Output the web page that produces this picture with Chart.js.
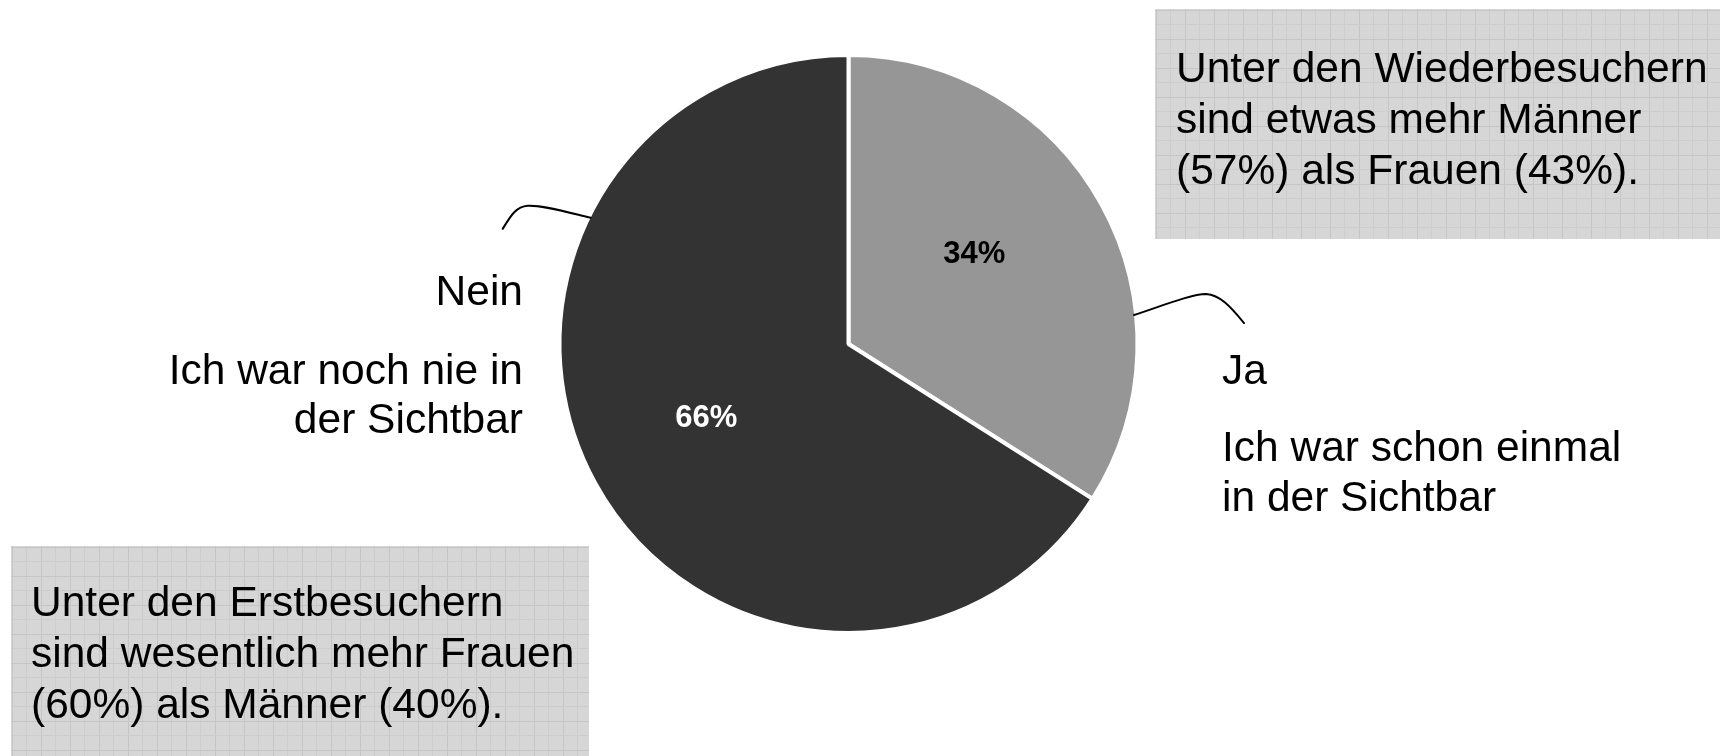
<!DOCTYPE html>
<html>
<head>
<meta charset="utf-8">
<script src="https://cdn.jsdelivr.net/npm/chart.js@4.4.1/dist/chart.umd.min.js"></script>
<style>
html, body { margin: 0; padding: 0; background: #ffffff; overflow: hidden; }
#wrap { width: 1720px; height: 756px; position: relative; }
</style>
</head>
<body>
<div id="wrap"><canvas id="c" width="1720" height="756"></canvas></div>
<script>
// ---- data ----
const categories = ['Ja', 'Nein'];
const values = [34, 66];
const valueLabels = ['34%', '66%'];
const categoryDescriptions = [
  ['Ich war schon einmal', 'in der Sichtbar'],
  ['Ich war noch nie in', 'der Sichtbar']
];
const noteWiederbesucher = ['Unter den Wiederbesuchern', 'sind etwas mehr Männer', '(57%) als Frauen (43%).'];
const noteErstbesucher = ['Unter den Erstbesuchern', 'sind wesentlich mehr Frauen', '(60%) als Männer (40%).'];

// ---- styles / layout ----
const sliceColors = ['#969696', '#333333'];
const valueLabelColors = ['#000000', '#ffffff'];
const FONT = '"Liberation Sans", Arial, Helvetica, sans-serif';
const TEXT_SIZE = 42.5;
const valueLabelPos = [ { along: 0.445, radial: 0.535 }, { along: 0.505, radial: 0.555 } ];
const categoryLabelLayout = [
  { x: 1222, align: 'left',  titleY: 384, lineYs: [461, 511] },
  { x: 523,  align: 'right', titleY: 305, lineYs: [384, 433] }
];
const leaderLayout = [
  { along: 0.688, segs: [[30,-10, 58,-21, 72,-21], [86,-20, 96,-9, 110,8]] },
  { along: 0.731, segs: [[-25,-6, -50,-13, -63,-12], [-75,-11, -80,-2, -88,11]] }
];
const noteBoxes = [
  { x: 1155, y: 9,   w: 565, h: 230, textX: 1176, lineYs: [82, 133, 184], lines: noteWiederbesucher },
  { x: 11,   y: 546, w: 578, h: 210, textX: 31,   lineYs: [616, 667, 718], lines: noteErstbesucher }
];

function drawGridBox(ctx, b) {
  ctx.save();
  ctx.fillStyle = '#d6d6d6';
  ctx.fillRect(b.x, b.y, b.w, b.h);
  ctx.beginPath();
  ctx.rect(b.x, b.y, b.w, b.h);
  ctx.clip();
  ctx.lineWidth = 1;
  const step = 14.5;
  let i = 0;
  for (let x = b.x + 0.5; x < b.x + b.w; x += step, i++) {
    ctx.strokeStyle = (i % 2 === 0) ? '#c5c5c5' : '#cdcdcd';
    ctx.beginPath(); ctx.moveTo(Math.round(x) + 0.5, b.y); ctx.lineTo(Math.round(x) + 0.5, b.y + b.h); ctx.stroke();
  }
  i = 0;
  for (let y = b.y + 0.5; y < b.y + b.h; y += step, i++) {
    ctx.strokeStyle = (i % 2 === 0) ? '#c5c5c5' : '#cdcdcd';
    ctx.beginPath(); ctx.moveTo(b.x, Math.round(y) + 0.5); ctx.lineTo(b.x + b.w, Math.round(y) + 0.5); ctx.stroke();
  }
  ctx.restore();
}

const decorPlugin = {
  id: 'decor',
  beforeDraw(chart) {
    const ctx = chart.ctx;
    noteBoxes.forEach(b => drawGridBox(ctx, b));
  },
  afterDraw(chart) {
    const ctx = chart.ctx;
    const meta = chart.getDatasetMeta(0);
    ctx.save();
    // value labels inside slices
    meta.data.forEach((arc, i) => {
      const p = arc.getProps(['x', 'y', 'startAngle', 'endAngle', 'outerRadius'], true);
      const a = p.startAngle + (p.endAngle - p.startAngle) * valueLabelPos[i].along;
      const r = p.outerRadius * valueLabelPos[i].radial;
      ctx.font = 'bold 31px ' + FONT;
      ctx.fillStyle = valueLabelColors[i];
      ctx.textAlign = 'center';
      ctx.textBaseline = 'middle';
      ctx.fillText(valueLabels[i], p.x + Math.cos(a) * r, p.y + Math.sin(a) * r);
    });
    // leader lines
    ctx.strokeStyle = '#000000';
    ctx.lineWidth = 2;
    ctx.lineCap = 'round';
    meta.data.forEach((arc, i) => {
      const p = arc.getProps(['x', 'y', 'startAngle', 'endAngle', 'outerRadius'], true);
      const L = leaderLayout[i];
      const a = p.startAngle + (p.endAngle - p.startAngle) * L.along;
      const r = p.outerRadius - 2;
      const sx = p.x + Math.cos(a) * r, sy = p.y + Math.sin(a) * r;
      ctx.beginPath();
      ctx.moveTo(sx, sy);
      L.segs.forEach(s => ctx.bezierCurveTo(sx + s[0], sy + s[1], sx + s[2], sy + s[3], sx + s[4], sy + s[5]));
      ctx.stroke();
    });
    // category labels
    ctx.fillStyle = '#000000';
    ctx.textBaseline = 'alphabetic';
    ctx.font = TEXT_SIZE + 'px ' + FONT;
    categories.forEach((c, i) => {
      const lay = categoryLabelLayout[i];
      ctx.textAlign = lay.align;
      ctx.fillText(c, lay.x, lay.titleY);
      categoryDescriptions[i].forEach((line, j) => ctx.fillText(line, lay.x, lay.lineYs[j]));
    });
    // note texts
    ctx.textAlign = 'left';
    noteBoxes.forEach(b => b.lines.forEach((line, j) => ctx.fillText(line, b.textX, b.lineYs[j])));
    ctx.restore();
  }
};

new Chart(document.getElementById('c'), {
  type: 'pie',
  data: {
    labels: categories,
    datasets: [{
      data: values,
      backgroundColor: sliceColors,
      borderColor: '#ffffff',
      borderWidth: 4
    }]
  },
  options: {
    responsive: false,
    animation: false,
    devicePixelRatio: 1,
    layout: { padding: { top: 53, bottom: 121, left: 300, right: 323 } },
    plugins: { legend: { display: false }, tooltip: { enabled: false } }
  },
  plugins: [decorPlugin]
});
</script>
</body>
</html>
